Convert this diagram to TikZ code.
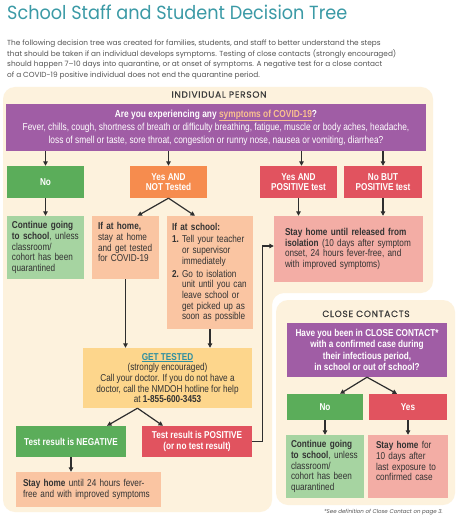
\documentclass[tikz,border=0pt]{standalone}
\usepackage{fontspec}
\setmainfont{Liberation Sans}[FakeStretch=0.82]
\newfontfamily\pop{Poppins}
\newfontfamily\popt{Poppins}[FakeStretch=0.93]
\newfontfamily\poph{Poppins}[LetterSpace=8,FakeBold=0.6]
\usetikzlibrary{arrows.meta}
\hyphenpenalty=10000
\exhyphenpenalty=10000
\definecolor{ttl}{HTML}{3B9AA6}
\definecolor{paracol}{HTML}{555555}
\definecolor{panel}{HTML}{FDF2DD}
\definecolor{purp}{HTML}{A05DA5}
\definecolor{cgreen}{HTML}{5BAD5A}
\definecolor{lgreen}{HTML}{A6D4A1}
\definecolor{corange}{HTML}{F68C4E}
\definecolor{peach}{HTML}{FAC5A2}
\definecolor{cred}{HTML}{E1535F}
\definecolor{pink}{HTML}{F3ADA5}
\definecolor{yel}{HTML}{FDD68C}
\definecolor{arrc}{HTML}{2E2E2E}
\definecolor{txtc}{HTML}{333333}
\definecolor{lnk}{HTML}{F9C08F}
\definecolor{gtl}{HTML}{2E8FA0}
\definecolor{headc}{HTML}{3C3C3C}
\begin{document}
\begin{tikzpicture}[x=1pt,y=-1pt,
  pbox/.style n args={5}{fill=#5, minimum width=#3pt, minimum height=#4pt, at={(#1,#2)}, inner sep=0pt},
  wtxt/.style={text=white, font=\fontsize{10}{10.7}\selectfont\bfseries, align=center},
  ltxt/.style 2 args={inner xsep=#1pt, text width=#2pt, align=left, text=txtc, font=\fontsize{10}{10.7}\selectfont},
  arr/.style={draw=arrc, line width=1.2pt, -{Triangle[length=4.5pt,width=4.5pt]}},
  head/.style={inner sep=0pt, anchor=base, font=\poph\fontsize{9}{9}\selectfont, text=headc}
]
\useasboundingbox[fill=white] (0,0) rectangle (463,518);

% title and intro
\node[anchor=base west, inner sep=0pt, font=\popt\fontsize{19}{20}\selectfont, text=ttl] (title) at (7,19.5) {School Staff and Student Decision Tree};
\node[anchor=north west, inner sep=0pt, align=left, font=\pop\fontsize{7.35}{10.7}\selectfont, text=paracol] (intro) at (7,39.5)
 {The following decision tree was created for families, students, and staff to better understand the steps\\
  that should be taken if an individual develops symptoms. Testing of close contacts (strongly encouraged)\\
  should happen 7–10 days into quarantine, or at onset of symptoms. A negative test for a close contact\\
  of a COVID-19 positive individual does not end the quarantine period.};

% panels
\fill[panel, rounded corners=12pt] (3,87) -- (433,87) -- (433,293) -- (272,293) -- (272,512) -- (3,512) -- cycle;
\fill[panel, rounded corners=12pt] (276,300) rectangle (455,505);

\node[head] (hind) at (219,97.7) {INDIVIDUAL PERSON};
\node[head] (hclose) at (366,317) {CLOSE CONTACTS};

% individual person
\node[pbox={216}{127.5}{420}{47}{purp}, text=white, align=center, font=\fontsize{10.2}{13}\selectfont] (q1)
 {\textbf{Are you experiencing any \textcolor{lnk}{\underline{symptoms of COVID-19}}?}\\
  Fever, chills, cough, shortness of breath or difficulty breathing, fatigue, muscle or body aches, headache,\\
  loss of smell or taste, sore throat, congestion or runny nose, nausea or vomiting, diarrhea?};

\node[pbox={45.5}{182}{77}{32}{cgreen}, wtxt] (no) {No};
\node[pbox={168.5}{182}{77}{32}{corange}, wtxt] (yesnot) {Yes AND\\NOT Tested};
\node[pbox={298.5}{182}{77}{32}{cred}, wtxt] (yespos) {Yes AND\\POSITIVE test};
\node[pbox={383}{182}{78}{32}{cred}, wtxt] (nobut) {No BUT\\POSITIVE test};

\node[pbox={45.5}{247.5}{77}{63}{lgreen}, ltxt={5}{67}] (cont)
 {\textbf{Continue going}\\\textbf{to school}, unless\\classroom/\\cohort has been\\quarantined};
\node[pbox={125.5}{247.5}{67}{63}{peach}, ltxt={6}{55}] (home)
 {\textbf{If at home,}\\stay at home\\and get tested\\for COVID-19\\\mbox{}};
\node[pbox={210}{272.5}{86}{113}{peach}, ltxt={5}{76}] (school)
 {\textbf{If at school:}\\[2pt]
  \makebox[10pt][l]{\textbf{1.}}Tell your teacher\\
  \hspace*{10pt}or supervisor\\
  \hspace*{10pt}immediately\\[2pt]
  \makebox[10pt][l]{\textbf{2.}}Go to isolation\\
  \hspace*{10pt}unit until you can\\
  \hspace*{10pt}leave school or\\
  \hspace*{10pt}get picked up as\\
  \hspace*{10pt}soon as possible};
\node[pbox={348.5}{249}{149}{66}{pink}, ltxt={11}{127}] (iso)
 {\textbf{Stay home until released from}\\\textbf{isolation} (10 days after symptom\\onset, 24 hours fever-free, and\\with improved symptoms)};

\node[pbox={167.5}{378}{169}{60}{yel}, align=center, text=txtc, font=\fontsize{10}{10.7}\selectfont] (gt)
 {\textcolor{gtl}{\textbf{\underline{GET TESTED}}}\\(strongly encouraged)\\Call your doctor. If you do not have a\\doctor, call the NMDOH hotline for help\\at \textbf{1-855-600-3453}};

\node[pbox={71}{441.5}{110}{31}{cgreen}, wtxt] (neg) {Test result is NEGATIVE};
\node[pbox={197}{441.5}{110}{31}{cred}, wtxt] (pos) {Test result is POSITIVE\\(or no test result)};
\node[pbox={88.5}{489.5}{145}{35}{peach}, ltxt={7}{131}] (stay)
 {\textbf{Stay home} until 24 hours fever-\\free and with improved symptoms};

% close contacts
\node[pbox={367}{350}{160}{54}{purp}, wtxt, font=\fontsize{10}{11.2}\selectfont\bfseries] (q2)
 {Have you been in CLOSE CONTACT*\\with a confirmed case during\\their infectious period,\\in school or out of school?};
\node[pbox={325}{407}{76}{26}{cgreen}, wtxt] (cno) {No};
\node[pbox={408}{407}{78}{26}{cred}, wtxt] (cyes) {Yes};
\node[pbox={325}{466.5}{76}{63}{lgreen}, ltxt={5}{68}] (ccont)
 {\textbf{Continue going}\\\textbf{to school}, unless\\classroom/\\cohort has been\\quarantined};
\node[pbox={408}{466.5}{78}{63}{pink}, ltxt={8}{64}] (cstay)
 {\textbf{Stay home} for\\10 days after\\last exposure to\\confirmed case\\\mbox{}};

\node[anchor=base east, inner sep=0pt, font=\pop\itshape\fontsize{5.5}{6}\selectfont, text=paracol] (foot) at (443,513)
 {*See definition of Close Contact on page 3.};

% connectors
\draw[arr] (no.north |- q1.south) -- (no.north);
\draw[arr] (yesnot.north |- q1.south) -- (yesnot.north);
\draw[arr] ([xshift=3pt]yespos.north |- q1.south) -- ([xshift=3pt]yespos.north);
\draw[arr] (nobut.north |- q1.south) -- (nobut.north);
\draw[arr] (no.south) -- (cont.north);
\draw[arr] (yesnot.south) -- ([xshift=12pt]home.north);
\draw[arr] (yesnot.south) -- ([xshift=-15pt]school.north);
\draw[arr] (yespos.south) -- (yespos.south |- iso.north);
\draw[arr] (nobut.south) -- (nobut.south |- iso.north);
\draw[arr] (home.south) -- (home.south |- gt.north);
\draw[arr] (school.south) -- (school.south |- gt.north);
\draw[arr] ([xshift=-30pt]gt.south) -- ([xshift=36pt]neg.north);
\draw[arr] ([xshift=-30pt]gt.south) -- ([xshift=-34pt]pos.north);
\draw[arr] (neg.south) -- (neg.south |- stay.north);
\draw[arr] (pos.east) -- ([xshift=10pt]pos.east) |- ([yshift=3pt]iso.west);
\draw[arr] (q2.south) -- ([xshift=15pt]cno.north);
\draw[arr] (q2.south) -- ([xshift=-11pt]cyes.north);
\draw[arr] (cno.south) -- (ccont.north);
\draw[arr] (cyes.south) -- (cstay.north);
\end{tikzpicture}
\end{document}
